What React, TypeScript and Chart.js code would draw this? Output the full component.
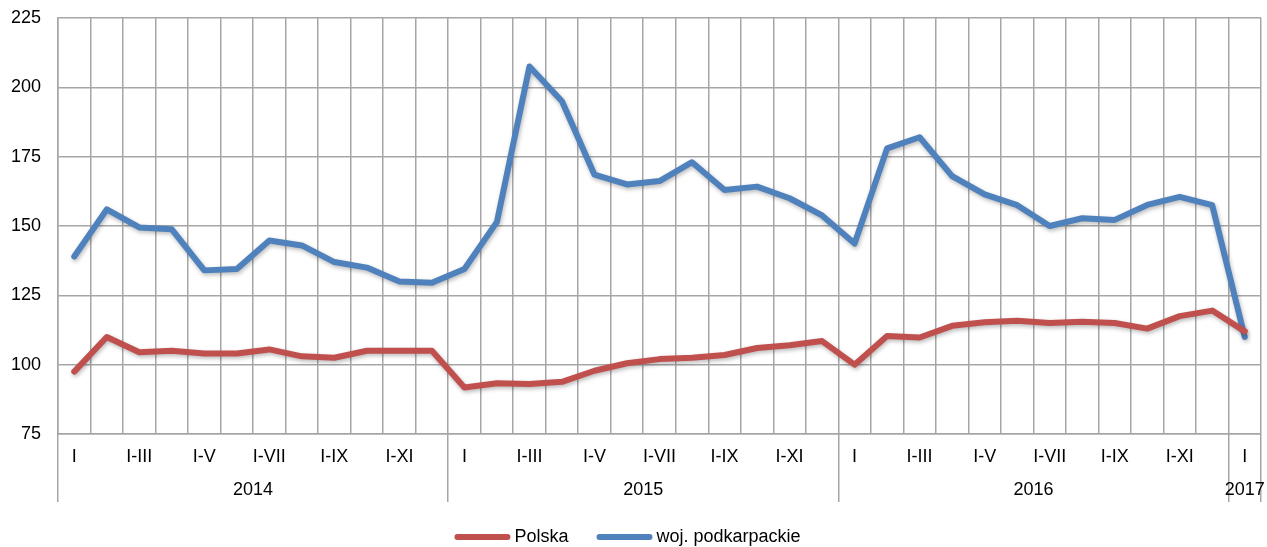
import React, { useEffect, useRef } from 'react';
import { Chart, registerables } from 'chart.js';

Chart.register(...registerables);

const years = ['2014', '2015', '2016', '2017'];
const monthsPerYear = [12, 12, 12, 1];
const periodLabels = ['I', 'I-II', 'I-III', 'I-IV', 'I-V', 'I-VI', 'I-VII', 'I-VIII', 'I-IX', 'I-X', 'I-XI', 'I-XII'];

const polska = [
  97.5, 110, 104.5, 105, 104, 104, 105.5, 103, 102.5, 105, 105, 105,
  91.8, 93.3, 93, 93.8, 97.8, 100.5, 102, 102.5, 103.5, 106, 107, 108.5,
  100, 110.3, 109.8, 114, 115.3, 115.8, 115, 115.5, 115, 113, 117.5, 119.5,
  112,
];

const podkarpackie = [
  139, 156, 149.5, 148.8, 134, 134.5, 144.8, 143, 137, 135, 130, 129.5,
  134.5, 151.5, 207.5, 195, 168.5, 165, 166.2, 173, 163, 164.2, 160, 153.8,
  143.7, 178, 182, 168, 161.4, 157.5, 150, 152.8, 152.2, 157.6, 160.5, 157.5,
  110,
];

const seriesNames = ['Polska', 'woj. podkarpackie'];
const seriesColors = ['#c0504d', '#4f81bd'];
const yMin = 75;
const yMax = 225;
const yStep = 25;

const categories: string[] = [];
const withinYear: number[] = [];
monthsPerYear.forEach((n) => {
  for (let k = 0; k < n; k++) {
    categories.push(periodLabels[k]);
    withinYear.push(k);
  }
});

const FONT = '"Liberation Sans", Arial, sans-serif';
const GRID = '#a6a6a6';

const shadowPlugin = {
  id: 'lineShadow',
  beforeDatasetDraw(chart: any) {
    const ctx = chart.ctx;
    ctx.save();
    ctx.shadowColor = 'rgba(0,0,0,0.28)';
    ctx.shadowBlur = 4;
    ctx.shadowOffsetX = 1;
    ctx.shadowOffsetY = 2;
  },
  afterDatasetDraw(chart: any) {
    chart.ctx.restore();
  },
};

const yearGroupPlugin = {
  id: 'yearGroups',
  afterDraw(chart: any) {
    const x = chart.scales.x;
    const ctx = chart.ctx;
    const area = chart.chartArea;
    const half = (x.getPixelForValue(1) - x.getPixelForValue(0)) / 2;
    const lineBottom = area.bottom + 68;
    ctx.save();
    ctx.strokeStyle = GRID;
    ctx.lineWidth = 1.5;
    ctx.fillStyle = '#000';
    ctx.font = `18px ${FONT}`;
    ctx.textAlign = 'center';
    ctx.textBaseline = 'middle';
    let start = 0;
    years.forEach((yr, i) => {
      const n = monthsPerYear[i];
      const left = x.getPixelForValue(start) - half;
      const right = x.getPixelForValue(start + n - 1) + half;
      const drawLine = (px: number) => {
        const p = Math.round(px - 0.75) + 0.75;
        ctx.beginPath();
        ctx.moveTo(p, area.bottom);
        ctx.lineTo(p, lineBottom);
        ctx.stroke();
      };
      drawLine(left);
      if (i === years.length - 1) drawLine(right);
      ctx.fillText(yr, (left + right) / 2, area.bottom + 56.5);
      start += n;
    });
    ctx.restore();
  },
};

const legendPlugin = {
  id: 'customLegend',
  afterDraw(chart: any) {
    const ctx = chart.ctx;
    const y = 537;
    const lineLen = 56;
    const gapText = 4;
    const gapItems = 28;
    ctx.save();
    ctx.font = `18px ${FONT}`;
    ctx.textBaseline = 'middle';
    ctx.textAlign = 'left';
    const widths = chart.data.datasets.map((d: any) => lineLen + gapText + ctx.measureText(d.label).width);
    const total = widths.reduce((a: number, b: number) => a + b, 0) + gapItems * (widths.length - 1);
    let cx = (chart.width - total) / 2 - 6;
    chart.data.datasets.forEach((d: any, i: number) => {
      ctx.strokeStyle = d.borderColor;
      ctx.lineWidth = 6;
      ctx.lineCap = 'round';
      ctx.beginPath();
      ctx.moveTo(cx + 3, y);
      ctx.lineTo(cx + lineLen - 3, y);
      ctx.stroke();
      ctx.fillStyle = '#000';
      ctx.fillText(d.label, cx + lineLen + gapText, y);
      cx += widths[i] + gapItems;
    });
    ctx.restore();
  },
};

export default function App() {
  const ref = useRef<HTMLCanvasElement | null>(null);

  useEffect(() => {
    if (!ref.current) return;
    const chart = new Chart(ref.current, {
      type: 'line',
      data: {
        labels: categories,
        datasets: [
          {
            label: seriesNames[0],
            data: polska,
            borderColor: seriesColors[0],
            backgroundColor: seriesColors[0],
            borderWidth: 6,
            pointRadius: 0,
            pointHoverRadius: 0,
            tension: 0,
            borderJoinStyle: 'round',
            borderCapStyle: 'round',
          },
          {
            label: seriesNames[1],
            data: podkarpackie,
            borderColor: seriesColors[1],
            backgroundColor: seriesColors[1],
            borderWidth: 6,
            pointRadius: 0,
            pointHoverRadius: 0,
            tension: 0,
            borderJoinStyle: 'round',
            borderCapStyle: 'round',
          },
        ],
      },
      options: {
        responsive: false,
        animation: false,
        events: [],
        layout: { padding: { top: 18, right: 6, left: 0, bottom: 0 } },
        plugins: {
          legend: { display: false },
          tooltip: { enabled: false },
        },
        scales: {
          x: {
            type: 'category',
            offset: true,
            grid: { offset: true, color: GRID, lineWidth: 1.5, drawTicks: false },
            border: { color: GRID, width: 1.5 },
            ticks: {
              autoSkip: false,
              maxRotation: 0,
              minRotation: 0,
              padding: 12,
              color: '#000',
              font: { family: FONT, size: 18 },
              callback: (_v: any, index: number) => (withinYear[index] % 2 === 0 ? categories[index] : ''),
            },
            afterFit: (scale: any) => {
              scale.height = 113;
              scale.paddingLeft = 0;
              scale.paddingRight = 0;
            },
          },
          y: {
            min: yMin,
            max: yMax,
            grid: { color: GRID, lineWidth: 1.5, drawTicks: false },
            border: { color: GRID, width: 1.5 },
            ticks: {
              stepSize: yStep,
              padding: 17,
              color: '#000',
              font: { family: FONT, size: 18 },
            },
            afterFit: (scale: any) => {
              scale.width = 58;
              scale.paddingTop = 0;
              scale.paddingBottom = 0;
            },
          },
        },
      },
      plugins: [shadowPlugin, yearGroupPlugin, legendPlugin],
    } as any);
    return () => chart.destroy();
  }, []);

  return (
    <div style={{ position: 'absolute', left: 0, top: 0, width: 1267, height: 547, background: '#fff' }}>
      <canvas ref={ref} width={1267} height={547} style={{ display: 'block' }} />
    </div>
  );
}
